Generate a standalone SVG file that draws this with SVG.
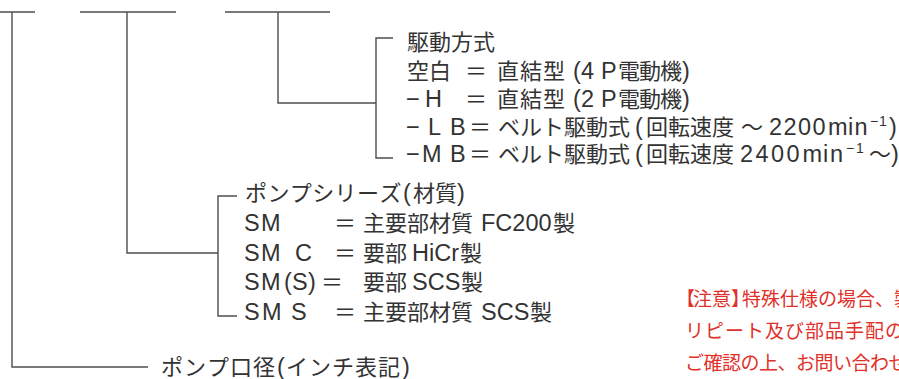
<svg xmlns="http://www.w3.org/2000/svg" width="899" height="379" viewBox="0 0 899 379">
<style>
.t{font-family:"Liberation Sans","Noto Sans CJK JP",sans-serif;font-size:22px;fill:#333}
.L{font-size:23.5px}
.sup{font-size:14px}
.r{font-family:"Noto Sans CJK JP",sans-serif;font-size:19px;fill:#df3029}
.ln{stroke:#4d4d4d;stroke-width:1.4;fill:none}
</style>
<rect width="899" height="379" fill="#fff"/>
<g id="connectors" class="ln">
<path d="M0 12H35M80 12H176M225 12H330"/>
<path d="M12 12V367H148"/>
<path d="M127 12V253H218"/>
<path d="M237 196H218V316H237"/>
<path d="M278 12V103H376"/>
<path d="M393 38H376V158H393"/>
</g>
<g id="drive">
<text class="t" x="407" y="50">駆動方式</text>
<text class="t" y="79"><tspan x="407">空白 </tspan><tspan x="465">＝ </tspan><tspan x="497 520 543">直結型</tspan><tspan class="L" x="573 581 601">(4P</tspan><tspan x="618 639 660">電動機</tspan><tspan class="L" x="682">)</tspan></text>
<text class="t" y="107"><tspan class="L" x="406 425">−H </tspan><tspan x="465">＝ </tspan><tspan x="497 520 543">直結型</tspan><tspan class="L" x="573 581 601">(2P</tspan><tspan x="618 639 660">電動機</tspan><tspan class="L" x="682">)</tspan></text>
<text class="t" y="135"><tspan class="L" x="406 428 450">−LB</tspan><tspan x="469">＝ </tspan><tspan x="498 520 542 564 586 608">ベルト駆動式</tspan><tspan class="L" x="635">(</tspan><tspan x="646 668 690 712">回転速度 </tspan><tspan x="741">〜 </tspan><tspan class="L" x="769 783.5 798 812.5 828 848 854.5">2200min</tspan><tspan class="sup" x="870 879" dy="-9">−1</tspan><tspan class="L" x="889" dy="9">)</tspan></text>
<text class="t" y="162"><tspan class="L" x="406 422 450">−MB</tspan><tspan x="469">＝ </tspan><tspan x="498 520 542 564 586 608">ベルト駆動式</tspan><tspan class="L" x="635">(</tspan><tspan x="646 668 690 712">回転速度 </tspan><tspan class="L" x="740 755.5 771 786.5 802.5 823 830">2400min</tspan><tspan class="sup" x="846 856" dy="-9">−1 </tspan><tspan x="869" dy="9">〜</tspan><tspan class="L" x="891">)</tspan></text>
</g>
<g id="series">
<text class="t" y="201"><tspan x="245 267.4 289.8 312.2 334.6 357 379.4">ポンプシリーズ</tspan><tspan class="L" x="403">(</tspan><tspan x="413 435">材質</tspan><tspan class="L" x="457">)</tspan></text>
<text class="t" y="231"><tspan class="L" x="244 261">SM </tspan><tspan x="334">＝ </tspan><tspan x="363">主要部材質 </tspan><tspan class="L" x="481">FC200</tspan><tspan x="553">製</tspan></text>
<text class="t" y="261"><tspan class="L" x="244 261 295">SMC </tspan><tspan x="334">＝ </tspan><tspan x="363">要部 </tspan><tspan class="L" x="412">HiCr</tspan><tspan x="460">製</tspan></text>
<text class="t" y="290"><tspan class="L" x="244 261 284 292 308">SM(S)</tspan><tspan x="321">＝ </tspan><tspan x="363">要部 </tspan><tspan class="L" x="412">SCS</tspan><tspan x="461">製</tspan></text>
<text class="t" y="320"><tspan class="L" x="244 262 291">SMS </tspan><tspan x="334">＝ </tspan><tspan x="363">主要部材質 </tspan><tspan class="L" x="481">SCS</tspan><tspan x="530">製</tspan></text>
</g>
<g id="bore">
<text class="t" y="375"><tspan x="161 184 207 230 253">ポンプ口径</tspan><tspan class="L" x="277">(</tspan><tspan x="286 309 332 355 378">インチ表記</tspan><tspan class="L" x="402">)</tspan></text>
</g>
<g id="note">
<text class="r" y="306" x="676 693 712 731 742 761 780 799 818 837 856 875 894">【注意】特殊仕様の場合、製</text>
<text class="r" y="338" x="685 705 725 745 765 785 805 825 845 865 885">リピート及び部品手配の</text>
<text class="r" y="370" x="685 703.5 722 740.5 759 777.5 796 814.5 833 851.5 870 888.5">ご確認の上、お問い合わせ</text>
</g>
</svg>
